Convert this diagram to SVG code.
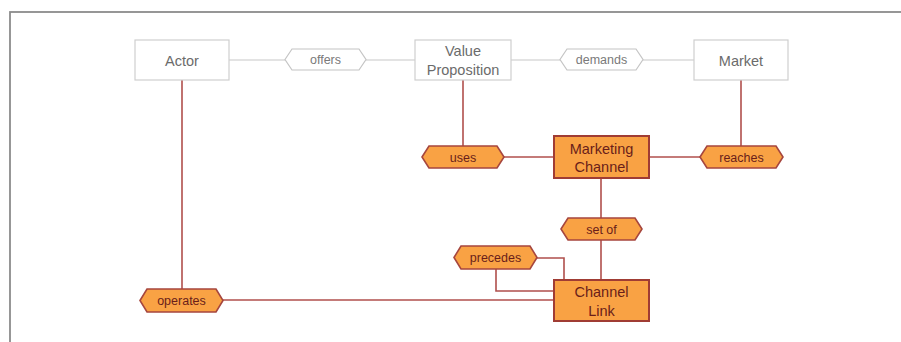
<svg xmlns="http://www.w3.org/2000/svg" width="901" height="342" viewBox="0 0 901 342">
  <style>
    .frame { fill: none; stroke: #8c8c8c; stroke-width: 1.8; }
    .gbox { fill: #ffffff; stroke: #cfcfcf; stroke-width: 1.2; }
    .ghex { fill: #ffffff; stroke: #c4c4c4; stroke-width: 1.2; }
    .gtxt { font-family: "Liberation Sans", Arial, sans-serif; font-size: 14.5px; fill: #6b6b6b; text-anchor: middle; }
    .gtxt-s { font-family: "Liberation Sans", Arial, sans-serif; font-size: 12.5px; fill: #7a7a7a; text-anchor: middle; }
    .obox { fill: #f9a244; stroke: #a03c34; stroke-width: 2; }
    .ohex { fill: #f9a244; stroke: #a6463e; stroke-width: 1.6; }
    .otxt { font-family: "Liberation Sans", Arial, sans-serif; font-size: 14.5px; fill: #6a1e1a; text-anchor: middle; }
    .otxt-s { font-family: "Liberation Sans", Arial, sans-serif; font-size: 12.5px; fill: #6a1e1a; text-anchor: middle; }
    .gline { fill: none; stroke: #c8c8c8; stroke-width: 1.2; }
    .rline { fill: none; stroke: #b04f4c; stroke-width: 1.6; }
  </style>

  <rect class="frame" x="10" y="12" width="900" height="340"/>

  <g id="connectors">
    <line class="gline" x1="229" y1="60" x2="285" y2="60"/>
    <line class="gline" x1="366" y1="60" x2="415" y2="60"/>
    <line class="gline" x1="511" y1="60" x2="560" y2="60"/>
    <line class="gline" x1="643" y1="60" x2="694" y2="60"/>
    <line class="rline" x1="182" y1="80" x2="182" y2="289"/>
    <line class="rline" x1="463" y1="80" x2="463" y2="146"/>
    <line class="rline" x1="741" y1="80" x2="741" y2="146"/>
    <line class="rline" x1="504" y1="157" x2="554" y2="157"/>
    <line class="rline" x1="649" y1="157" x2="700" y2="157"/>
    <line class="rline" x1="601" y1="178" x2="601" y2="218"/>
    <line class="rline" x1="601" y1="240" x2="601" y2="280"/>
    <polyline class="rline" points="537,258 564,258 564,280"/>
    <polyline class="rline" points="496,269 496,291 554,291"/>
    <line class="rline" x1="223" y1="300" x2="554" y2="300"/>
  </g>

  <g id="actor">
    <rect class="gbox" x="135" y="40" width="94" height="40"/>
    <text class="gtxt" x="182" y="65.5">Actor</text>
  </g>

  <g id="offers">
    <polygon class="ghex" points="285,59.5 292,49 359,49 366,59.5 359,70 292,70"/>
    <text class="gtxt-s" x="325.5" y="64">offers</text>
  </g>

  <g id="value-proposition">
    <rect class="gbox" x="415" y="40" width="96" height="40"/>
    <text class="gtxt" x="463" y="56">Value</text>
    <text class="gtxt" x="463" y="75">Proposition</text>
  </g>

  <g id="demands">
    <polygon class="ghex" points="560,59.5 567,49 636,49 643,59.5 636,70 567,70"/>
    <text class="gtxt-s" x="601.5" y="64">demands</text>
  </g>

  <g id="market">
    <rect class="gbox" x="694" y="40" width="94" height="40"/>
    <text class="gtxt" x="741" y="65.5">Market</text>
  </g>

  <g id="uses">
    <polygon class="ohex" points="422,157 429,146 497,146 504,157 497,168 429,168"/>
    <text class="otxt-s" x="463" y="161.5">uses</text>
  </g>

  <g id="marketing-channel">
    <rect class="obox" x="554" y="136" width="95" height="42"/>
    <text class="otxt" x="601.5" y="154">Marketing</text>
    <text class="otxt" x="601.5" y="172">Channel</text>
  </g>

  <g id="reaches">
    <polygon class="ohex" points="700,157 707,146 776,146 783,157 776,168 707,168"/>
    <text class="otxt-s" x="741.5" y="161.5">reaches</text>
  </g>

  <g id="set-of">
    <polygon class="ohex" points="561,229 568,218 635,218 642,229 635,240 568,240"/>
    <text class="otxt-s" x="601.5" y="233.5">set of</text>
  </g>

  <g id="precedes">
    <polygon class="ohex" points="454,257.5 461,246 530,246 537,257.5 530,269 461,269"/>
    <text class="otxt-s" x="495.5" y="262">precedes</text>
  </g>

  <g id="channel-link">
    <rect class="obox" x="554" y="280" width="95" height="41"/>
    <text class="otxt" x="601.5" y="297">Channel</text>
    <text class="otxt" x="601.5" y="315.5">Link</text>
  </g>

  <g id="operates">
    <polygon class="ohex" points="140,300.5 147,289 216,289 223,300.5 216,312 147,312"/>
    <text class="otxt-s" x="181.5" y="305">operates</text>
  </g>
</svg>
